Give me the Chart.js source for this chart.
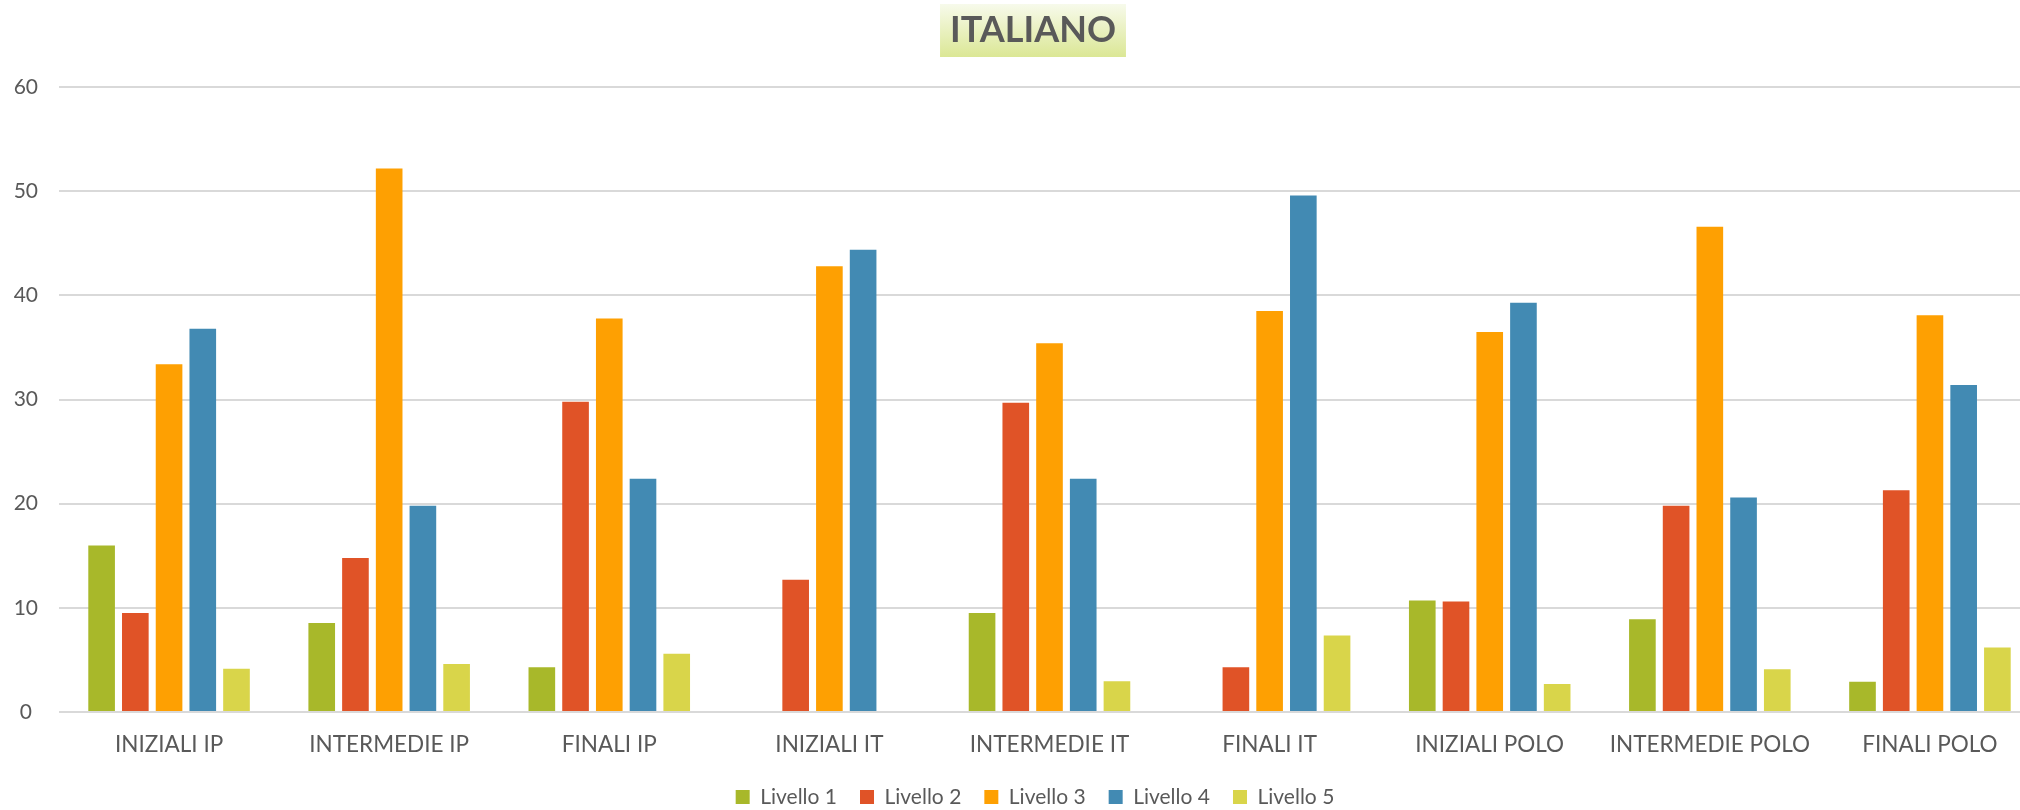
<!DOCTYPE html>
<html>
<head>
<meta charset="utf-8">
<script src="https://cdn.jsdelivr.net/npm/chart.js@4/dist/chart.umd.min.js"></script>
<style>
  html, body { margin: 0; padding: 0; background: #fff; overflow: hidden; }
</style>
</head>
<body>
<canvas id="chart" width="2066" height="810"></canvas>
<script>
// Données du graphique
const categories = ['INIZIALI IP', 'INTERMEDIE IP', 'FINALI IP', 'INIZIALI IT', 'INTERMEDIE IT', 'FINALI IT', 'INIZIALI POLO', 'INTERMEDIE POLO', 'FINALI POLO'];
const seriesNames = ['Livello 1', 'Livello 2', 'Livello 3', 'Livello 4', 'Livello 5'];
const livello1 = [16.0, 8.55, 4.3, 0, 9.5, 0, 10.7, 8.9, 2.9];
const livello2 = [9.5, 14.8, 29.8, 12.7, 29.7, 4.3, 10.6, 19.8, 21.3];
const livello3 = [33.4, 52.2, 37.8, 42.8, 35.4, 38.5, 36.5, 46.6, 38.1];
const livello4 = [36.8, 19.8, 22.4, 44.4, 22.4, 49.6, 39.3, 20.6, 31.4];
const livello5 = [4.15, 4.6, 5.6, 0, 2.95, 7.35, 2.7, 4.1, 6.2];
const yTicks = [0, 10, 20, 30, 40, 50, 60];

const colors = ['#a8b82a', '#e05327', '#fea002', '#428ab3', '#d9d54a'];
const seriesValues = [livello1, livello2, livello3, livello4, livello5];

const textColor = '#595959';
const fontFamily = 'Lato, "Open Sans", sans-serif';

// titre et légende un peu décalés vers la droite, comme dans l'original
const shiftBlocks = {
    id: 'shiftBlocks',
    afterLayout(chart) {
        if (chart.titleBlock) chart.titleBlock.left += 26;
        if (chart.legend) chart.legend.left += 30;
    }
};

// fond dégradé derrière le titre
const titleBackground = {
    id: 'titleBackground',
    beforeDraw(chart) {
        const t = chart.titleBlock;
        if (!t) return;
        const ctx = chart.ctx;
        const opts = chart.options.plugins.title;
        ctx.save();
        ctx.font = `bold ${opts.font.size}px ${opts.font.family}`;
        const w = ctx.measureText(opts.text).width + 20;
        const cx = (t.left + t.right) / 2;
        const top = 4, h = 53;
        const g = ctx.createLinearGradient(0, top, 0, top + h);
        g.addColorStop(0, '#f7faeb');
        g.addColorStop(1, '#dbe795');
        ctx.fillStyle = g;
        ctx.fillRect(cx - w / 2, top, w, h);
        ctx.restore();
    }
};

function createChart() {
    const ctx = document.getElementById('chart').getContext('2d');
    new Chart(ctx, {
        type: 'bar',
        data: {
            labels: categories,
            datasets: seriesNames.map((name, i) => ({
                label: name,
                data: seriesValues[i],
                backgroundColor: colors[i],
                borderWidth: 0,
                barPercentage: 0.79,
                categoryPercentage: 0.766
            }))
        },
        options: {
            responsive: false,
            animation: false,
            layout: {
                padding: { left: 0, right: 26, top: 0, bottom: -7.5 }
            },
            plugins: {
                title: {
                    display: true,
                    text: 'ITALIANO',
                    color: textColor,
                    font: { family: fontFamily, size: 36, weight: 'bold' },
                    padding: { top: 9, bottom: 35 }
                },
                legend: {
                    position: 'bottom',
                    labels: {
                        color: textColor,
                        font: { family: fontFamily, size: 21 },
                        boxWidth: 14,
                        boxHeight: 14,
                        padding: 23
                    }
                },
                tooltip: { enabled: false }
            },
            scales: {
                x: {
                    afterFit: axis => { axis.height = 51.5; },
                    grid: { display: false, drawTicks: false },
                    border: { display: false },
                    ticks: {
                        color: textColor,
                        font: { family: fontFamily, size: 22.5 },
                        padding: 19.5,
                        maxRotation: 0,
                        autoSkip: false
                    }
                },
                y: {
                    min: yTicks[0],
                    max: yTicks[yTicks.length - 1],
                    afterFit: axis => { axis.width = 59; },
                    afterBuildTicks: axis => { axis.ticks = yTicks.map(v => ({ value: v })); },
                    grid: { color: '#d9d9d9', lineWidth: 2, drawTicks: false },
                    border: { display: false },
                    ticks: {
                        color: textColor,
                        font: { family: fontFamily, size: 21 },
                        padding: 21,
                        crossAlign: 'center'
                    }
                }
            }
        },
        plugins: [shiftBlocks, titleBackground]
    });
}

createChart();
</script>
</body>
</html>
